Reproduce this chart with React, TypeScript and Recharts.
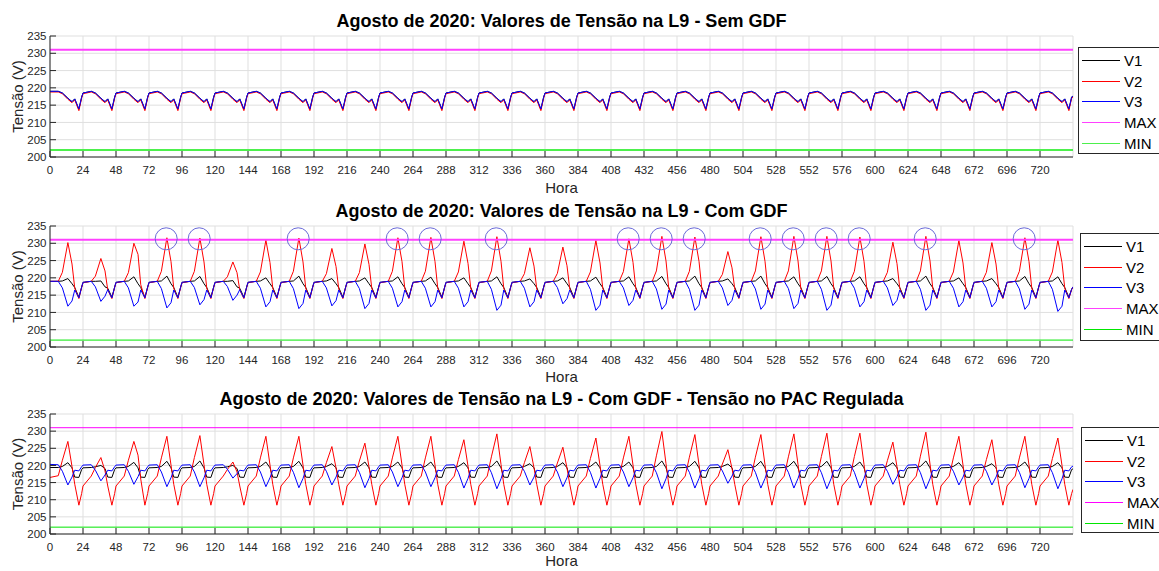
import React from 'react';
import {
  LineChart,
  Line,
  XAxis,
  YAxis,
  CartesianGrid,
  ReferenceLine,
  ReferenceDot,
} from 'recharts';

const SAMPLE_HOURS = [0, 6, 9, 13, 16, 18, 21, 23];
const HOUR_TICKS = [
  0, 24, 48, 72, 96, 120, 144, 168, 192, 216, 240, 264, 288, 312, 336, 360,
  384, 408, 432, 456, 480, 504, 528, 552, 576, 600, 624, 648, 672, 696, 720,
];
const VOLT_TICKS = [200, 205, 210, 215, 220, 225, 230, 235];
const LIMIT_MAX = 231;
const LIMIT_MIN = 202;
const LEGEND_NAMES = ['V1', 'V2', 'V3', 'MAX', 'MIN'];

// ---- Sem GDF: one row per day, values at SAMPLE_HOURS ----
// V1 sits right under V3 in the figure
const semV1 = [
  [219.0, 219.0, 218.5, 217.0, 216.0, 216.8, 213.8, 217.3],
  [218.5, 219.0, 218.5, 217.0, 216.0, 216.8, 213.8, 217.3],
  [218.5, 219.0, 218.5, 217.0, 216.0, 216.8, 213.8, 217.3],
  [218.5, 219.0, 218.5, 217.0, 216.0, 216.8, 213.8, 217.3],
  [218.5, 219.0, 218.5, 217.0, 216.0, 216.8, 213.8, 217.3],
  [218.5, 219.0, 218.5, 217.0, 216.0, 216.8, 213.8, 217.3],
  [218.5, 219.0, 218.5, 217.0, 216.0, 216.8, 213.8, 217.3],
  [218.5, 219.0, 218.5, 217.0, 216.0, 216.8, 213.8, 217.3],
  [218.5, 219.0, 218.5, 217.0, 216.0, 216.8, 213.8, 217.3],
  [218.5, 219.0, 218.5, 217.0, 216.0, 216.8, 213.8, 217.3],
  [218.5, 219.0, 218.5, 217.0, 216.0, 216.8, 213.8, 217.3],
  [218.5, 219.0, 218.5, 217.0, 216.0, 216.8, 213.8, 217.3],
  [218.5, 219.0, 218.5, 217.0, 216.0, 216.8, 213.8, 217.3],
  [218.5, 219.0, 218.5, 217.0, 216.0, 216.8, 213.8, 217.3],
  [218.5, 219.0, 218.5, 217.0, 216.0, 216.8, 213.8, 217.3],
  [218.5, 219.0, 218.5, 217.0, 216.0, 216.8, 213.8, 217.3],
  [218.5, 219.0, 218.5, 217.0, 216.0, 216.8, 213.8, 217.3],
  [218.5, 219.0, 218.5, 217.0, 216.0, 216.8, 213.8, 217.3],
  [218.5, 219.0, 218.5, 217.0, 216.0, 216.8, 213.8, 217.3],
  [218.5, 219.0, 218.5, 217.0, 216.0, 216.8, 213.8, 217.3],
  [218.5, 219.0, 218.5, 217.0, 216.0, 216.8, 213.8, 217.3],
  [218.5, 219.0, 218.5, 217.0, 216.0, 216.8, 213.8, 217.3],
  [218.5, 219.0, 218.5, 217.0, 216.0, 216.8, 213.8, 217.3],
  [218.5, 219.0, 218.5, 217.0, 216.0, 216.8, 213.8, 217.3],
  [218.5, 219.0, 218.5, 217.0, 216.0, 216.8, 213.8, 217.3],
  [218.5, 219.0, 218.5, 217.0, 216.0, 216.8, 213.8, 217.3],
  [218.5, 219.0, 218.5, 217.0, 216.0, 216.8, 213.8, 217.3],
  [218.5, 219.0, 218.5, 217.0, 216.0, 216.8, 213.8, 217.3],
  [218.5, 219.0, 218.5, 217.0, 216.0, 216.8, 213.8, 217.3],
  [218.5, 219.0, 218.5, 217.0, 216.0, 216.8, 213.8, 217.3],
  [218.5, 219.0, 218.5, 217.0, 216.0, 216.8, 213.8, 217.3],
];
const semV2 = [
  [218.8, 218.8, 218.3, 216.7, 215.7, 216.5, 213.4, 217.0],
  [218.3, 218.8, 218.3, 216.7, 215.7, 216.5, 213.4, 217.0],
  [218.3, 218.8, 218.3, 216.7, 215.7, 216.5, 213.4, 217.0],
  [218.3, 218.8, 218.3, 216.7, 215.7, 216.5, 213.4, 217.0],
  [218.3, 218.8, 218.3, 216.7, 215.7, 216.5, 213.4, 217.0],
  [218.3, 218.8, 218.3, 216.7, 215.7, 216.5, 213.4, 217.0],
  [218.3, 218.8, 218.3, 216.7, 215.7, 216.5, 213.4, 217.0],
  [218.3, 218.8, 218.3, 216.7, 215.7, 216.5, 213.4, 217.0],
  [218.3, 218.8, 218.3, 216.7, 215.7, 216.5, 213.4, 217.0],
  [218.3, 218.8, 218.3, 216.7, 215.7, 216.5, 213.4, 217.0],
  [218.3, 218.8, 218.3, 216.7, 215.7, 216.5, 213.4, 217.0],
  [218.3, 218.8, 218.3, 216.7, 215.7, 216.5, 213.4, 217.0],
  [218.3, 218.8, 218.3, 216.7, 215.7, 216.5, 213.4, 217.0],
  [218.3, 218.8, 218.3, 216.7, 215.7, 216.5, 213.4, 217.0],
  [218.3, 218.8, 218.3, 216.7, 215.7, 216.5, 213.4, 217.0],
  [218.3, 218.8, 218.3, 216.7, 215.7, 216.5, 213.4, 217.0],
  [218.3, 218.8, 218.3, 216.7, 215.7, 216.5, 213.4, 217.0],
  [218.3, 218.8, 218.3, 216.7, 215.7, 216.5, 213.4, 217.0],
  [218.3, 218.8, 218.3, 216.7, 215.7, 216.5, 213.4, 217.0],
  [218.3, 218.8, 218.3, 216.7, 215.7, 216.5, 213.4, 217.0],
  [218.3, 218.8, 218.3, 216.7, 215.7, 216.5, 213.4, 217.0],
  [218.3, 218.8, 218.3, 216.7, 215.7, 216.5, 213.4, 217.0],
  [218.3, 218.8, 218.3, 216.7, 215.7, 216.5, 213.4, 217.0],
  [218.3, 218.8, 218.3, 216.7, 215.7, 216.5, 213.4, 217.0],
  [218.3, 218.8, 218.3, 216.7, 215.7, 216.5, 213.4, 217.0],
  [218.3, 218.8, 218.3, 216.7, 215.7, 216.5, 213.4, 217.0],
  [218.3, 218.8, 218.3, 216.7, 215.7, 216.5, 213.4, 217.0],
  [218.3, 218.8, 218.3, 216.7, 215.7, 216.5, 213.4, 217.0],
  [218.3, 218.8, 218.3, 216.7, 215.7, 216.5, 213.4, 217.0],
  [218.3, 218.8, 218.3, 216.7, 215.7, 216.5, 213.4, 217.0],
  [218.3, 218.8, 218.3, 216.7, 215.7, 216.5, 213.4, 217.0],
];
const semV3 = [
  [219.0, 219.0, 218.5, 217.0, 216.0, 216.8, 213.9, 217.3],
  [218.5, 219.0, 218.5, 217.0, 216.0, 216.8, 213.9, 217.3],
  [218.5, 219.0, 218.5, 217.0, 216.0, 216.8, 213.9, 217.3],
  [218.5, 219.0, 218.5, 217.0, 216.0, 216.8, 213.9, 217.3],
  [218.5, 219.0, 218.5, 217.0, 216.0, 216.8, 213.9, 217.3],
  [218.5, 219.0, 218.5, 217.0, 216.0, 216.8, 213.9, 217.3],
  [218.5, 219.0, 218.5, 217.0, 216.0, 216.8, 213.9, 217.3],
  [218.5, 219.0, 218.5, 217.0, 216.0, 216.8, 213.9, 217.3],
  [218.5, 219.0, 218.5, 217.0, 216.0, 216.8, 213.9, 217.3],
  [218.5, 219.0, 218.5, 217.0, 216.0, 216.8, 213.9, 217.3],
  [218.5, 219.0, 218.5, 217.0, 216.0, 216.8, 213.9, 217.3],
  [218.5, 219.0, 218.5, 217.0, 216.0, 216.8, 213.9, 217.3],
  [218.5, 219.0, 218.5, 217.0, 216.0, 216.8, 213.9, 217.3],
  [218.5, 219.0, 218.5, 217.0, 216.0, 216.8, 213.9, 217.3],
  [218.5, 219.0, 218.5, 217.0, 216.0, 216.8, 213.9, 217.3],
  [218.5, 219.0, 218.5, 217.0, 216.0, 216.8, 213.9, 217.3],
  [218.5, 219.0, 218.5, 217.0, 216.0, 216.8, 213.9, 217.3],
  [218.5, 219.0, 218.5, 217.0, 216.0, 216.8, 213.9, 217.3],
  [218.5, 219.0, 218.5, 217.0, 216.0, 216.8, 213.9, 217.3],
  [218.5, 219.0, 218.5, 217.0, 216.0, 216.8, 213.9, 217.3],
  [218.5, 219.0, 218.5, 217.0, 216.0, 216.8, 213.9, 217.3],
  [218.5, 219.0, 218.5, 217.0, 216.0, 216.8, 213.9, 217.3],
  [218.5, 219.0, 218.5, 217.0, 216.0, 216.8, 213.9, 217.3],
  [218.5, 219.0, 218.5, 217.0, 216.0, 216.8, 213.9, 217.3],
  [218.5, 219.0, 218.5, 217.0, 216.0, 216.8, 213.9, 217.3],
  [218.5, 219.0, 218.5, 217.0, 216.0, 216.8, 213.9, 217.3],
  [218.5, 219.0, 218.5, 217.0, 216.0, 216.8, 213.9, 217.3],
  [218.5, 219.0, 218.5, 217.0, 216.0, 216.8, 213.9, 217.3],
  [218.5, 219.0, 218.5, 217.0, 216.0, 216.8, 213.9, 217.3],
  [218.5, 219.0, 218.5, 217.0, 216.0, 216.8, 213.9, 217.3],
  [218.5, 219.0, 218.5, 217.0, 216.0, 216.8, 213.9, 217.3],
];
const semEnd = [217.7, 217.3, 217.7];

// ---- Com GDF ----
const comV1 = [
  [219.0, 219.0, 219.1, 219.8, 218.3, 217.2, 214.4, 217.3],
  [218.7, 219.0, 219.0, 219.1, 217.4, 217.0, 214.4, 217.3],
  [218.7, 219.0, 219.1, 220.3, 218.3, 217.2, 214.4, 217.3],
  [218.7, 219.0, 219.1, 220.5, 218.3, 217.2, 214.4, 217.3],
  [218.7, 219.0, 219.1, 220.4, 218.3, 217.2, 214.4, 217.3],
  [218.7, 219.0, 219.0, 219.2, 217.4, 217.0, 214.4, 217.3],
  [218.7, 219.0, 219.1, 220.0, 218.3, 217.2, 214.4, 217.3],
  [218.7, 219.0, 219.1, 220.5, 218.3, 217.2, 214.4, 217.3],
  [218.7, 219.0, 219.1, 219.8, 218.3, 217.2, 214.4, 217.3],
  [218.7, 219.0, 219.1, 220.0, 218.3, 217.2, 214.4, 217.3],
  [218.7, 219.0, 219.1, 220.3, 218.3, 217.2, 214.4, 217.3],
  [218.7, 219.0, 219.1, 220.2, 218.3, 217.2, 214.4, 217.3],
  [218.7, 219.0, 219.1, 220.0, 218.3, 217.2, 214.4, 217.3],
  [218.7, 219.0, 219.1, 220.3, 218.3, 217.2, 214.4, 217.3],
  [218.7, 219.0, 219.1, 219.7, 218.3, 217.2, 214.4, 217.3],
  [218.7, 219.0, 219.1, 220.0, 218.3, 217.2, 214.4, 217.3],
  [218.7, 219.0, 219.1, 220.2, 218.3, 217.2, 214.4, 217.3],
  [218.7, 219.0, 219.1, 220.3, 218.3, 217.2, 214.4, 217.3],
  [218.7, 219.0, 219.1, 220.4, 218.3, 217.2, 214.4, 217.3],
  [218.7, 219.0, 219.1, 220.5, 218.3, 217.2, 214.4, 217.3],
  [218.7, 219.0, 219.1, 219.7, 218.3, 217.2, 214.4, 217.3],
  [218.7, 219.0, 219.1, 220.5, 218.3, 217.2, 214.4, 217.3],
  [218.7, 219.0, 219.1, 220.3, 218.3, 217.2, 214.4, 217.3],
  [218.7, 219.0, 219.1, 220.4, 218.3, 217.2, 214.4, 217.3],
  [218.7, 219.0, 219.1, 220.3, 218.3, 217.2, 214.4, 217.3],
  [218.7, 219.0, 219.1, 219.8, 218.3, 217.2, 214.4, 217.3],
  [218.7, 219.0, 219.1, 220.5, 218.3, 217.2, 214.4, 217.3],
  [218.7, 219.0, 219.1, 220.0, 218.3, 217.2, 214.4, 217.3],
  [218.7, 219.0, 219.1, 219.8, 218.3, 217.2, 214.4, 217.3],
  [218.7, 219.0, 219.1, 220.4, 218.3, 217.2, 214.4, 217.3],
  [218.7, 219.0, 219.1, 220.3, 218.3, 217.2, 214.4, 216.7],
];
const comV2 = [
  [219.0, 219.0, 221.6, 230.2, 224.0, 217.0, 214.0, 217.2],
  [218.6, 219.0, 220.5, 225.6, 222.0, 216.5, 214.0, 217.2],
  [218.6, 219.0, 221.5, 230.0, 226.8, 218.0, 214.0, 217.2],
  [218.6, 219.0, 221.9, 231.6, 224.7, 217.0, 214.0, 217.2],
  [218.6, 219.0, 221.9, 231.5, 224.6, 217.0, 214.0, 217.2],
  [218.6, 219.0, 220.3, 224.6, 221.5, 216.5, 214.0, 217.2],
  [218.6, 219.0, 221.7, 230.9, 224.4, 217.0, 214.0, 217.2],
  [218.6, 219.0, 221.9, 231.5, 224.6, 217.0, 214.0, 217.2],
  [218.6, 219.0, 221.2, 228.5, 223.3, 216.8, 214.0, 217.2],
  [218.6, 219.0, 221.5, 229.8, 223.9, 217.0, 214.0, 217.2],
  [218.6, 219.0, 221.9, 231.6, 224.7, 217.0, 214.0, 217.2],
  [218.6, 219.0, 221.9, 231.7, 224.7, 217.0, 214.0, 217.2],
  [218.6, 219.0, 221.7, 230.6, 224.2, 217.0, 214.0, 217.2],
  [218.6, 219.0, 222.0, 231.9, 224.8, 217.0, 214.0, 217.2],
  [218.6, 219.0, 221.2, 228.7, 223.4, 216.8, 214.0, 217.2],
  [218.6, 219.0, 221.3, 228.9, 223.5, 216.8, 214.0, 217.2],
  [218.6, 219.0, 221.7, 230.8, 224.3, 217.0, 214.0, 217.2],
  [218.6, 219.0, 221.8, 231.3, 224.5, 217.0, 214.0, 217.2],
  [218.6, 219.0, 222.0, 232.0, 224.9, 217.0, 214.0, 217.2],
  [218.6, 219.0, 221.9, 231.8, 224.8, 217.0, 214.0, 217.2],
  [218.6, 219.0, 221.0, 227.6, 222.9, 216.8, 214.0, 217.2],
  [218.6, 219.0, 222.0, 231.9, 224.8, 217.0, 214.0, 217.2],
  [218.6, 219.0, 222.0, 232.0, 224.9, 217.0, 214.0, 217.2],
  [218.6, 219.0, 222.0, 232.0, 224.9, 217.0, 214.0, 217.2],
  [218.6, 219.0, 221.9, 231.8, 224.8, 217.0, 214.0, 217.2],
  [218.6, 219.0, 221.6, 230.3, 224.1, 217.0, 214.0, 217.2],
  [218.6, 219.0, 222.0, 232.0, 224.9, 217.0, 214.0, 217.2],
  [218.6, 219.0, 221.7, 230.8, 224.3, 217.0, 214.0, 217.2],
  [218.6, 219.0, 221.6, 230.2, 224.0, 217.0, 214.0, 217.2],
  [218.6, 219.0, 221.9, 231.6, 224.7, 217.0, 214.0, 217.2],
  [218.6, 219.0, 221.7, 230.9, 224.4, 217.0, 214.0, 216.6],
];
const comV3 = [
  [219.0, 219.0, 217.1, 211.8, 213.3, 216.5, 214.2, 217.3],
  [218.7, 219.0, 217.4, 213.2, 214.7, 216.6, 214.2, 217.3],
  [218.7, 219.0, 217.1, 211.8, 213.0, 216.5, 214.2, 217.3],
  [218.7, 219.0, 216.9, 211.3, 212.8, 216.5, 214.2, 217.3],
  [218.7, 219.0, 217.2, 212.2, 213.7, 216.5, 214.2, 217.3],
  [218.7, 219.0, 217.5, 213.5, 215.0, 216.6, 214.2, 217.3],
  [218.7, 219.0, 217.0, 211.6, 213.1, 216.5, 214.2, 217.3],
  [218.7, 219.0, 216.9, 211.1, 212.6, 216.5, 214.2, 217.3],
  [218.7, 219.0, 217.1, 211.9, 213.4, 216.5, 214.2, 217.3],
  [218.7, 219.0, 216.9, 211.1, 212.6, 216.5, 214.2, 217.3],
  [218.7, 219.0, 217.0, 211.6, 213.1, 216.5, 214.2, 217.3],
  [218.7, 219.0, 217.0, 211.6, 213.1, 216.5, 214.2, 217.3],
  [218.7, 219.0, 217.0, 211.6, 213.1, 216.5, 214.2, 217.3],
  [218.7, 219.0, 216.7, 210.6, 212.1, 216.5, 214.2, 217.3],
  [218.7, 219.0, 217.0, 211.6, 213.1, 216.5, 214.2, 217.3],
  [218.7, 219.0, 217.2, 212.5, 214.0, 216.5, 214.2, 217.3],
  [218.7, 219.0, 216.7, 210.6, 212.1, 216.5, 214.2, 217.3],
  [218.7, 219.0, 217.1, 212.0, 213.5, 216.5, 214.2, 217.3],
  [218.7, 219.0, 216.8, 210.9, 212.4, 216.5, 214.2, 217.3],
  [218.7, 219.0, 216.7, 210.6, 212.1, 216.5, 214.2, 217.3],
  [218.7, 219.0, 217.1, 212.0, 213.5, 216.5, 214.2, 217.3],
  [218.7, 219.0, 216.8, 210.9, 212.4, 216.5, 214.2, 217.3],
  [218.7, 219.0, 216.9, 211.1, 212.6, 216.5, 214.2, 217.3],
  [218.7, 219.0, 216.7, 210.6, 212.1, 216.5, 214.2, 217.3],
  [218.7, 219.0, 217.0, 211.6, 213.1, 216.5, 214.2, 217.3],
  [218.7, 219.0, 217.1, 212.0, 213.5, 216.5, 214.2, 217.3],
  [218.7, 219.0, 216.7, 210.6, 212.1, 216.5, 214.2, 217.3],
  [218.7, 219.0, 217.0, 211.6, 213.1, 216.5, 214.2, 217.3],
  [218.7, 219.0, 217.0, 211.6, 213.1, 216.5, 214.2, 217.3],
  [218.7, 219.0, 216.8, 210.9, 212.4, 216.5, 214.2, 217.3],
  [218.7, 219.0, 216.7, 210.3, 211.8, 216.5, 214.2, 216.7],
];
const comEnd = [217.3, 217.4, 217.4];
// peaks marked with a circle in the figure (hour)
const circledHours = [
  84.5, 108.5, 180.5, 252.5, 276.5, 324.5, 420.5, 444.5, 468.5, 516.5, 540.5,
  564.5, 588.5, 636.5, 708.5,
];

// ---- Com GDF - Tensão no PAC regulada ----
const regV1 = [
  [219.4, 219.4, 219.7, 220.8, 219.3, 216.6, 216.5, 218.8],
  [219.3, 219.4, 219.6, 220.0, 219.1, 216.6, 216.5, 218.8],
  [219.3, 219.4, 219.7, 220.9, 219.3, 216.6, 216.5, 218.8],
  [219.3, 219.4, 219.7, 221.2, 219.3, 216.6, 216.5, 218.8],
  [219.3, 219.4, 219.7, 221.3, 219.3, 216.6, 216.5, 218.8],
  [219.3, 219.4, 219.6, 220.0, 219.1, 216.6, 216.5, 218.8],
  [219.3, 219.4, 219.7, 221.0, 219.3, 216.6, 216.5, 218.8],
  [219.3, 219.4, 219.7, 221.2, 219.3, 216.6, 216.5, 218.8],
  [219.3, 219.4, 219.7, 220.5, 219.3, 216.6, 216.5, 218.8],
  [219.3, 219.4, 219.7, 221.0, 219.3, 216.6, 216.5, 218.8],
  [219.3, 219.4, 219.7, 221.0, 219.3, 216.6, 216.5, 218.8],
  [219.3, 219.4, 219.7, 221.0, 219.3, 216.6, 216.5, 218.8],
  [219.3, 219.4, 219.7, 220.8, 219.3, 216.6, 216.5, 218.8],
  [219.3, 219.4, 219.7, 221.3, 219.3, 216.6, 216.5, 218.8],
  [219.3, 219.4, 219.7, 220.5, 219.3, 216.6, 216.5, 218.8],
  [219.3, 219.4, 219.7, 220.8, 219.3, 216.6, 216.5, 218.8],
  [219.3, 219.4, 219.7, 221.0, 219.3, 216.6, 216.5, 218.8],
  [219.3, 219.4, 219.7, 221.0, 219.3, 216.6, 216.5, 218.8],
  [219.3, 219.4, 219.7, 221.3, 219.3, 216.6, 216.5, 218.8],
  [219.3, 219.4, 219.7, 221.2, 219.3, 216.6, 216.5, 218.8],
  [219.3, 219.4, 219.7, 220.4, 219.3, 216.6, 216.5, 218.8],
  [219.3, 219.4, 219.7, 221.2, 219.3, 216.6, 216.5, 218.8],
  [219.3, 219.4, 219.7, 221.2, 219.3, 216.6, 216.5, 218.8],
  [219.3, 219.4, 219.7, 221.2, 219.3, 216.6, 216.5, 218.8],
  [219.3, 219.4, 219.7, 221.0, 219.3, 216.6, 216.5, 218.8],
  [219.3, 219.4, 219.7, 220.8, 219.3, 216.6, 216.5, 218.8],
  [219.3, 219.4, 219.7, 221.3, 219.3, 216.6, 216.5, 218.8],
  [219.3, 219.4, 219.7, 220.8, 219.3, 216.6, 216.5, 218.8],
  [219.3, 219.4, 219.7, 220.5, 219.3, 216.6, 216.5, 218.8],
  [219.3, 219.4, 219.7, 221.0, 219.3, 216.6, 216.5, 218.8],
  [219.3, 219.4, 219.7, 220.8, 219.3, 216.6, 216.5, 218.8],
];
const regV2 = [
  [216.5, 217.0, 221.5, 227.0, 219.7, 214.5, 208.4, 211.8],
  [214.0, 216.9, 219.4, 222.3, 218.4, 214.0, 208.4, 211.8],
  [214.0, 216.9, 221.5, 227.0, 223.0, 216.0, 208.4, 211.8],
  [214.0, 216.9, 222.2, 228.5, 220.1, 214.5, 208.4, 211.8],
  [214.0, 216.9, 222.3, 228.7, 220.2, 214.5, 208.4, 211.8],
  [214.0, 216.9, 218.8, 221.0, 218.1, 214.0, 208.4, 211.8],
  [214.0, 216.9, 222.2, 228.5, 220.1, 214.5, 208.4, 211.8],
  [214.0, 216.9, 222.2, 228.5, 220.1, 214.5, 208.4, 211.8],
  [214.0, 216.9, 220.8, 225.5, 219.3, 214.5, 208.4, 211.8],
  [214.0, 216.9, 221.3, 226.5, 219.6, 214.5, 208.4, 211.8],
  [214.0, 216.9, 222.2, 228.5, 220.1, 214.5, 208.4, 211.8],
  [214.0, 216.9, 222.2, 228.5, 220.1, 214.5, 208.4, 211.8],
  [214.0, 216.9, 221.7, 227.5, 219.8, 214.5, 208.4, 211.8],
  [214.0, 216.9, 222.5, 229.2, 220.3, 214.5, 208.4, 211.8],
  [214.0, 216.9, 220.8, 225.5, 219.3, 214.5, 208.4, 211.8],
  [214.0, 216.9, 220.7, 225.3, 219.2, 214.5, 208.4, 211.8],
  [214.0, 216.9, 222.0, 228.0, 220.0, 214.5, 208.4, 211.8],
  [214.0, 216.9, 222.2, 228.5, 220.1, 214.5, 208.4, 211.8],
  [214.0, 216.9, 222.8, 229.9, 220.5, 214.5, 208.4, 211.8],
  [214.0, 216.9, 222.4, 229.0, 220.2, 214.5, 208.4, 211.8],
  [214.0, 216.9, 220.4, 224.6, 219.1, 214.5, 208.4, 211.8],
  [214.0, 216.9, 222.4, 229.0, 220.2, 214.5, 208.4, 211.8],
  [214.0, 216.9, 222.5, 229.2, 220.3, 214.5, 208.4, 211.8],
  [214.0, 216.9, 222.6, 229.4, 220.3, 214.5, 208.4, 211.8],
  [214.0, 216.9, 222.6, 229.4, 220.3, 214.5, 208.4, 211.8],
  [214.0, 216.9, 221.4, 226.8, 219.6, 214.5, 208.4, 211.8],
  [214.0, 216.9, 222.7, 229.7, 220.4, 214.5, 208.4, 211.8],
  [214.0, 216.9, 222.2, 228.5, 220.1, 214.5, 208.4, 211.8],
  [214.0, 216.9, 221.7, 227.5, 219.8, 214.5, 208.4, 211.8],
  [214.0, 216.9, 222.2, 228.5, 220.1, 214.5, 208.4, 211.8],
  [214.0, 216.9, 222.0, 228.0, 220.0, 214.5, 208.4, 211.8],
];
const regV3 = [
  [220.3, 220.2, 218.3, 214.3, 216.6, 218.6, 218.4, 219.6],
  [220.1, 220.2, 218.6, 215.5, 217.2, 218.6, 218.4, 219.6],
  [220.1, 220.2, 218.3, 214.5, 216.7, 218.6, 218.4, 219.6],
  [220.1, 220.2, 218.1, 213.8, 216.4, 218.6, 218.4, 219.6],
  [220.1, 220.2, 218.1, 213.8, 216.4, 218.6, 218.4, 219.6],
  [220.1, 220.2, 218.9, 216.3, 217.6, 218.6, 218.4, 219.6],
  [220.1, 220.2, 218.1, 213.8, 216.4, 218.6, 218.4, 219.6],
  [220.1, 220.2, 218.0, 213.5, 216.2, 218.6, 218.4, 219.6],
  [220.1, 220.2, 218.3, 214.3, 216.6, 218.6, 218.4, 219.6],
  [220.1, 220.2, 218.0, 213.5, 216.2, 218.6, 218.4, 219.6],
  [220.1, 220.2, 218.1, 213.8, 216.4, 218.6, 218.4, 219.6],
  [220.1, 220.2, 218.1, 213.8, 216.4, 218.6, 218.4, 219.6],
  [220.1, 220.2, 218.0, 213.4, 216.2, 218.6, 218.4, 219.6],
  [220.1, 220.2, 217.9, 213.2, 216.1, 218.6, 218.4, 219.6],
  [220.1, 220.2, 218.3, 214.3, 216.6, 218.6, 218.4, 219.6],
  [220.1, 220.2, 218.1, 213.8, 216.4, 218.6, 218.4, 219.6],
  [220.1, 220.2, 218.0, 213.4, 216.2, 218.6, 218.4, 219.6],
  [220.1, 220.2, 218.1, 213.8, 216.4, 218.6, 218.4, 219.6],
  [220.1, 220.2, 217.9, 213.2, 216.1, 218.6, 218.4, 219.6],
  [220.1, 220.2, 218.0, 213.4, 216.2, 218.6, 218.4, 219.6],
  [220.1, 220.2, 218.4, 214.8, 216.9, 218.6, 218.4, 219.6],
  [220.1, 220.2, 218.0, 213.4, 216.2, 218.6, 218.4, 219.6],
  [220.1, 220.2, 218.0, 213.4, 216.2, 218.6, 218.4, 219.6],
  [220.1, 220.2, 217.9, 213.2, 216.1, 218.6, 218.4, 219.6],
  [220.1, 220.2, 218.0, 213.4, 216.2, 218.6, 218.4, 219.6],
  [220.1, 220.2, 218.3, 214.5, 216.7, 218.6, 218.4, 219.6],
  [220.1, 220.2, 217.9, 213.2, 216.1, 218.6, 218.4, 219.6],
  [220.1, 220.2, 218.3, 214.3, 216.6, 218.6, 218.4, 219.6],
  [220.1, 220.2, 218.3, 214.3, 216.6, 218.6, 218.4, 219.6],
  [220.1, 220.2, 218.0, 213.5, 216.2, 218.6, 218.4, 219.6],
  [220.1, 220.2, 217.9, 213.2, 216.1, 218.6, 218.4, 219.6],
];
const regEnd = [219.0, 213.0, 219.8];

type Row = { hora: number; v1: number; v2: number; v3: number };

function buildRows(v1: number[][], v2: number[][], v3: number[][], end: number[]): Row[] {
  const rows: Row[] = [];
  v1.forEach((day, d) => {
    day.forEach((value, j) => {
      rows.push({ hora: d * 24 + SAMPLE_HOURS[j], v1: value, v2: v2[d][j], v3: v3[d][j] });
    });
  });
  rows.push({ hora: 744, v1: end[0], v2: end[1], v3: end[2] });
  return rows;
}

const semRows = buildRows(semV1, semV2, semV3, semEnd);
const comRows = buildRows(comV1, comV2, comV3, comEnd);
const regRows = buildRows(regV1, regV2, regV3, regEnd);

const FONT = '"Liberation Sans", Arial, Helvetica, sans-serif';
const AXIS = '#262626';
const CHART_W = 1159;
const PLOT_LEFT = 50;
const PLOT_RIGHT = 1073;
const X_AXIS_H = 40;
const TOP_PAD = 10;

interface PanelProps {
  title: string;
  rows: Row[];
  plotTop: number;
  plotHeight: number;
  horaOffset: number;
  legendLeft: number;
  legendTop: number;
  legendHeight: number;
  maxColor: string;
  maxWidth: number;
  minColor: string;
  minWidth: number;
  circles?: number[];
}

const LegendBox: React.FC<{ left: number; top: number; height: number; colors: string[] }> = ({
  left,
  top,
  height,
  colors,
}) => (
  <div
    style={{
      position: 'absolute',
      left,
      top,
      width: 100,
      height,
      boxSizing: 'border-box',
      border: `1px solid ${AXIS}`,
      background: '#fff',
      paddingTop: 2,
    }}
  >
    {LEGEND_NAMES.map((name, i) => (
      <div key={name} style={{ display: 'flex', alignItems: 'center', height: 20.75 }}>
        <span style={{ marginLeft: 3, width: 38, height: 0, borderTop: `1.5px solid ${colors[i]}` }} />
        <span style={{ marginLeft: 4, fontSize: 15, lineHeight: '15px', color: '#000' }}>{name}</span>
      </div>
    ))}
  </div>
);

const VoltagePanel: React.FC<PanelProps> = ({
  title,
  rows,
  plotTop,
  plotHeight,
  horaOffset,
  legendLeft,
  legendTop,
  legendHeight,
  maxColor,
  maxWidth,
  minColor,
  minWidth,
  circles = [],
}) => (
  <>
    <div
      style={{
        position: 'absolute',
        left: PLOT_LEFT,
        width: PLOT_RIGHT - PLOT_LEFT,
        top: plotTop - 25,
        textAlign: 'center',
        fontSize: 18,
        lineHeight: '20px',
        fontWeight: 'bold',
        color: '#000',
        whiteSpace: 'nowrap',
      }}
    >
      {title}
    </div>
    <div style={{ position: 'absolute', left: 0, top: plotTop - TOP_PAD }}>
      <LineChart
        width={CHART_W}
        height={plotHeight + X_AXIS_H + TOP_PAD}
        data={rows}
        margin={{ top: TOP_PAD, right: CHART_W - PLOT_RIGHT, bottom: 0, left: 0 }}
      >
        <CartesianGrid stroke="#dfdfdf" />
        <XAxis
          dataKey="hora"
          type="number"
          domain={[0, 744]}
          ticks={HOUR_TICKS}
          interval={0}
          allowDataOverflow
          height={X_AXIS_H}
          stroke={AXIS}
          tickSize={-6}
          tickMargin={14.5}
          tick={{ fontSize: 11.5, fill: AXIS }}
          label={{ value: 'Hora', position: 'insideBottom', offset: horaOffset, fontSize: 15, fill: AXIS }}
        />
        <XAxis
          xAxisId="top"
          orientation="top"
          type="number"
          domain={[0, 744]}
          ticks={HOUR_TICKS}
          interval={0}
          allowDataOverflow
          height={0}
          stroke={AXIS}
          tickSize={-6}
          tick={false}
        />
        <YAxis
          type="number"
          domain={[200, 235]}
          ticks={VOLT_TICKS}
          interval={0}
          allowDataOverflow
          width={PLOT_LEFT}
          stroke={AXIS}
          tickSize={-6}
          tickMargin={9.5}
          tick={{ fontSize: 11.5, fill: AXIS }}
          label={{
            value: 'Tensão (V)',
            angle: -90,
            position: 'insideLeft',
            offset: 18,
            fontSize: 15,
            fill: AXIS,
            style: { textAnchor: 'middle' },
          }}
        />
        <YAxis
          yAxisId="right"
          orientation="right"
          type="number"
          domain={[200, 235]}
          ticks={VOLT_TICKS}
          interval={0}
          allowDataOverflow
          width={0}
          stroke={AXIS}
          tickSize={-6}
          tick={false}
        />
        <Line type="linear" dataKey="v1" stroke="#000000" strokeWidth={1} dot={false} isAnimationActive={false} />
        <Line type="linear" dataKey="v2" stroke="#ff0000" strokeWidth={1} dot={false} isAnimationActive={false} />
        <Line type="linear" dataKey="v3" stroke="#0000ff" strokeWidth={1} dot={false} isAnimationActive={false} />
        <ReferenceLine y={LIMIT_MAX} stroke={maxColor} strokeWidth={maxWidth} />
        <ReferenceLine y={LIMIT_MIN} stroke={minColor} strokeWidth={minWidth} />
        {circles.map(h => (
          <ReferenceDot
            key={h}
            x={h}
            y={231.3}
            r={11}
            fill="none"
            stroke="#6a6ad8"
            strokeWidth={1}
          />
        ))}
      </LineChart>
    </div>
    <LegendBox
      left={legendLeft}
      top={legendTop}
      height={legendHeight}
      colors={['#000000', '#ff0000', '#0000ff', maxColor, minColor]}
    />
  </>
);

const App: React.FC = () => (
  <div
    style={{
      position: 'absolute',
      left: 0,
      top: 0,
      width: CHART_W,
      height: 571,
      overflow: 'hidden',
      background: '#fff',
      fontFamily: FONT,
    }}
  >
    <VoltagePanel
      title="Agosto de 2020: Valores de Tensão na L9 - Sem GDF"
      rows={semRows}
      plotTop={36}
      plotHeight={121}
      horaOffset={4}
      legendLeft={1078}
      legendTop={47}
      legendHeight={107}
      maxColor="#ff40ff"
      maxWidth={2}
      minColor="#4cf04c"
      minWidth={2}
    />
    <VoltagePanel
      title="Agosto de 2020: Valores de Tensão na L9 - Com GDF"
      rows={comRows}
      plotTop={226}
      plotHeight={121}
      horaOffset={5}
      legendLeft={1080}
      legendTop={233}
      legendHeight={108}
      maxColor="#ff40ff"
      maxWidth={2}
      minColor="#00e600"
      minWidth={1}
      circles={circledHours}
    />
    <VoltagePanel
      title="Agosto de 2020: Valores de Tensão na L9 - Com GDF - Tensão no PAC Regulada"
      rows={regRows}
      plotTop={414}
      plotHeight={120}
      horaOffset={8}
      legendLeft={1081}
      legendTop={427}
      legendHeight={106}
      maxColor="#ff00ff"
      maxWidth={1}
      minColor="#00e600"
      minWidth={1}
    />
  </div>
);

export default App;
